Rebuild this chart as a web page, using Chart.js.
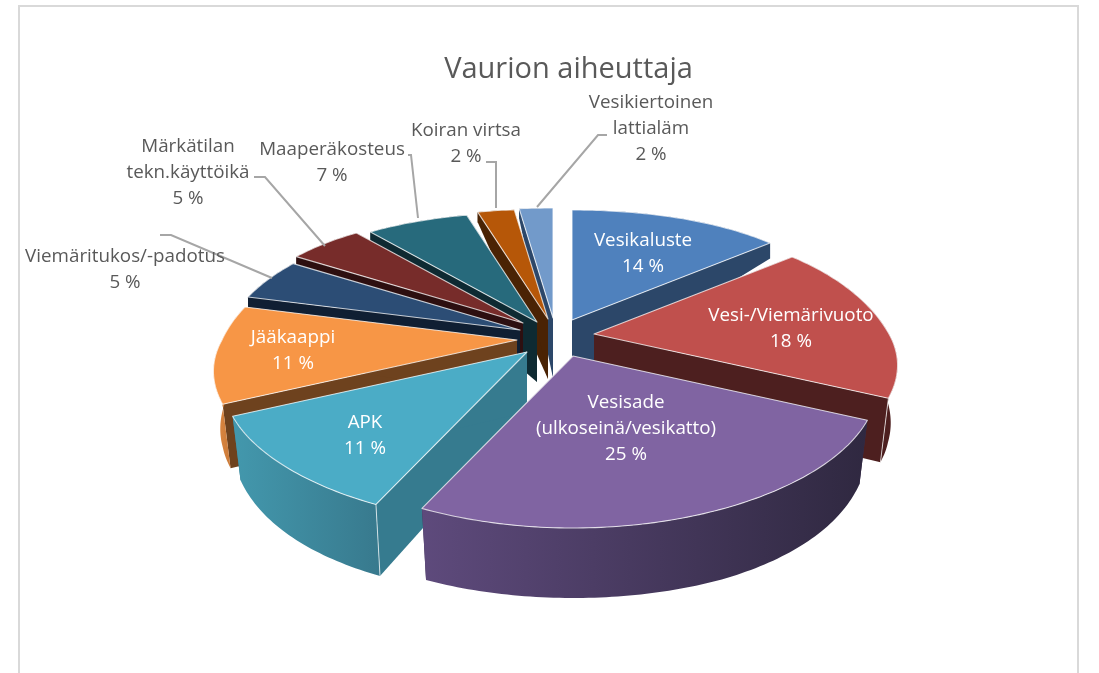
<!DOCTYPE html>
<html>
<head>
<meta charset="utf-8">
<style>html,body{margin:0;padding:0;background:#fff;overflow:hidden}canvas{display:block}</style>
<script src="https://cdn.jsdelivr.net/npm/chart.js@4"></script>
</head>
<body>
<canvas id="c" width="1099" height="673"></canvas>
<script>
const chartTitle = 'Vaurion aiheuttaja';
const categories = ['Vesikaluste','Vesi-/Viemärivuoto','Vesisade (ulkoseinä/vesikatto)','APK','Jääkaappi','Viemäritukos/-padotus','Märkätilan tekn.käyttöikä','Maaperäkosteus','Koiran virtsa','Vesikiertoinen lattialäm'];
const values = [14,18,25,11,11,5,5,6.6,2.3,2.1];
const labelLines = [['Vesikaluste'],['Vesi-/Viemärivuoto'],['Vesisade','(ulkoseinä/vesikatto)'],['APK'],['Jääkaappi'],['Viemäritukos/-padotus'],['Märkätilan','tekn.käyttöikä'],['Maaperäkosteus'],['Koiran virtsa'],['Vesikiertoinen','lattialäm']];

// styling
const topColors  = ['#4f81bd','#c0504d','#8064a2','#4bacc6','#f79646','#2c4d75','#772c2a','#276a7c','#b65708','#729aca'];
const wallColors = ['#2c4769','#4d1f1f','#3a2c4e','#367b8f','#6e421e','#101f33','#2d0f10','#0e2a32','#4a2304','#2c4769'];
const rimLeft    = ['#2c4769','#4d1f1f','#5e4a7c','#4398ad','#e08a44','#101f33','#2d0f10','#0e2a32','#4a2304','#2c4769'];
const rimRight   = ['#2c4769','#4d1f1f','#2f2840','#387a8e','#b86d2e','#101f33','#2d0f10','#0e2a32','#4a2304','#2c4769'];
const labelColors = ['#fff','#fff','#fff','#fff','#fff','#595959','#595959','#595959','#595959','#595959'];
const explodedTipX = [572,594,573,527,517,520,523,537,548,553];
const explodedTipY = [320,334,356,352,340,330,323,322,319,318];
const drawOrder = [0,9,8,7,6,5,4,1,3,2];
const labelX = [643,791,626,365,293,125,188,332,466,651];
const labelY = [241,316,403,423,338,257,147,150,131,103];
const leaders = {5:[[160,235],[171,235],[272,278]],6:[[254,177],[265,177],[325,246]],7:[[408,155],[411,155],[418,218]],8:[[486,162],[496,162],[496,208]],9:[[607,135],[598,135],[537,207]]};
const lineHeight = 26;
const bottomTable = [[-1,-100],[-.77,-81],[-.64,-62],[0,60],[.42,127],[.9,223],[1,242]];

function widthAt(u,v){
  if(v>0) return 295+76*v-11*v*v;
  const w=295+63*v+25*v*v;
  return u>0 ? w*(1+.047*v) : w;
}
function topDepth(v){return v>0?135*v+37*v*v:140*v+30*v*v;}
function bottomDepth(v){
  for(let i=1;i<bottomTable.length;i++){
    const a=bottomTable[i-1],b=bottomTable[i];
    if(v<=b[0]) return a[1]+(b[1]-a[1])*(v-a[0])/(b[0]-a[0]);
  }
  return 242;
}
function projTop(i,t){const u=Math.sin(t),v=-Math.cos(t);return [explodedTipX[i]+u*widthAt(u,v),explodedTipY[i]+topDepth(v)];}
function projBot(i,t){const u=Math.sin(t),v=-Math.cos(t);
  const k=1-.027*Math.max(0,Math.min(1,(v+.3)/.6));
  return [explodedTipX[i]+u*widthAt(u,v)*k,explodedTipY[i]+bottomDepth(v)];}
function poly(ctx,pts){ctx.beginPath();pts.forEach((p,j)=>j?ctx.lineTo(p[0],p[1]):ctx.moveTo(p[0],p[1]));ctx.closePath();}

const pie3d = {
  id:'pie3d',
  beforeDatasetsDraw(chart){
    const ctx=chart.ctx, arcs=chart.getDatasetMeta(0).data;
    ctx.save();
    // frame
    ctx.strokeStyle='#d9d9d9';ctx.lineWidth=2;ctx.strokeRect(19,6,1059,700);
    ctx.lineJoin='round';
    for(const i of drawOrder){
      const a=arcs[i], t0=a.startAngle+Math.PI/2, t1=a.endAngle+Math.PI/2;
      const n=Math.max(4,Math.round((t1-t0)*60));
      const rimT=[],rimB=[];
      for(let j=0;j<=n;j++){const t=t0+(t1-t0)*j/n;rimT.push(projTop(i,t));rimB.push(projBot(i,t));}
      const tipT=[explodedTipX[i],explodedTipY[i]], tipB=[explodedTipX[i],explodedTipY[i]+bottomDepth(0)];
      // cut walls
      ctx.fillStyle=wallColors[i];
      poly(ctx,[tipT,rimT[0],rimB[0],tipB]);ctx.fill();
      poly(ctx,[tipT,rimT[n],rimB[n],tipB]);ctx.fill();
      // outer wall
      const xs=rimT.map(p=>p[0]);
      const g=ctx.createLinearGradient(Math.min(...xs),0,Math.max(...xs)+1,0);
      g.addColorStop(0,rimLeft[i]);g.addColorStop(1,rimRight[i]);
      ctx.fillStyle=g;
      poly(ctx,rimT.concat(rimB.slice().reverse()));ctx.fill();
      // light corner edges
      ctx.strokeStyle='rgba(255,255,255,.7)';ctx.lineWidth=1;
      if(i===1){ctx.beginPath();ctx.moveTo(rimT[n][0],rimT[n][1]);ctx.lineTo(rimB[n][0],rimB[n][1]);ctx.stroke();}
      if(i===3){ctx.beginPath();ctx.moveTo(rimT[0][0],rimT[0][1]);ctx.lineTo(rimB[0][0],rimB[0][1]);ctx.stroke();}
      // top face
      ctx.fillStyle=topColors[i];
      poly(ctx,[tipT].concat(rimT));ctx.fill();
      ctx.strokeStyle='rgba(255,255,255,.75)';ctx.lineWidth=1.1;ctx.stroke();
    }
    // leader lines
    ctx.strokeStyle='#a6a6a6';ctx.lineWidth=2;ctx.lineJoin='miter';
    for(const k in leaders){const p=leaders[k];ctx.beginPath();p.forEach((q,j)=>j?ctx.lineTo(q[0],q[1]):ctx.moveTo(q[0],q[1]));ctx.stroke();}
    // labels
    ctx.font='18.8px "Open Sans"';ctx.textAlign='center';ctx.textBaseline='middle';
    values.forEach((val,i)=>{
      ctx.fillStyle=labelColors[i];
      const lines=labelLines[i].concat([Math.round(val)+' %']);
      lines.forEach((s,j)=>ctx.fillText(s,labelX[i],labelY[i]+j*lineHeight));
    });
    ctx.restore();
    return false;
  }
};

new Chart(document.getElementById('c'),{
  type:'pie',
  data:{labels:categories,datasets:[{data:values,backgroundColor:topColors}]},
  plugins:[pie3d],
  options:{
    responsive:false,animation:false,
    layout:{padding:{left:38,top:50}},
    plugins:{
      legend:{display:false},tooltip:{enabled:false},
      title:{display:true,text:chartTitle,color:'#595959',font:{family:'"Open Sans"',size:29,weight:'normal'},padding:{top:2,bottom:4}}
    }
  }
});
</script>
</body>
</html>
